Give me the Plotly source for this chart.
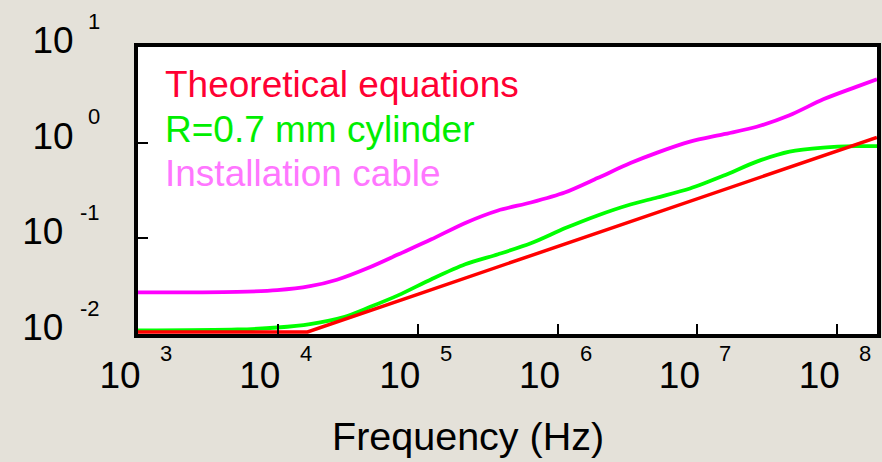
import plotly.graph_objects as go

# ---- data ----
theory_f = [1e3, 1e4, 1.63e4, 1e5, 1e6, 1e7, 1e8, 1.92e8]
theory_r = [0.0105, 0.0105, 0.0105, 0.026, 0.0822, 0.26, 0.822, 1.134]

cyl_f = [1000, 5140, 9910, 16980, 29650, 45400, 72950, 125300, 218800,
         375800, 644200, 1.125e6, 1.932e6, 3.319e6, 5.164e6, 8.851e6, 1.545e7,
         2.655e7, 4.56e7, 7.943e7, 1.365e8, 1.923e8]
cyl_r = [0.01088, 0.01114, 0.01169, 0.01271, 0.01503, 0.01911, 0.02549, 0.03741,
         0.05358, 0.06813, 0.0887, 0.1271, 0.1736, 0.226, 0.2674, 0.3318,
         0.4531, 0.6341, 0.8059, 0.8869, 0.9194, 0.9194]

cable_f = [1000, 5140, 9910, 16980, 26450, 45400, 72950, 125300, 218800,
           375800, 644200, 1.125e6, 1.932e6, 3.319e6, 5.164e6, 8.851e6, 1.545e7,
           2.655e7, 4.56e7, 7.943e7, 1.365e8, 1.923e8]
cable_r = [0.02719, 0.02758, 0.02873, 0.03162, 0.03695, 0.04987, 0.06813, 0.09763,
           0.145, 0.1957, 0.2371, 0.3014, 0.4268, 0.6116, 0.7867, 1.024,
           1.226, 1.468, 1.934, 2.839, 3.831, 4.608]

series_names = ["Theoretical equations", "R=0.7 mm cylinder", "Installation cable"]
line_colors = ["#FF0000", "#00FF00", "#FF00FF"]
text_colors = ["#FF0033", "#00EE00", "#FF77FF"]

x_exps = [3, 4, 5, 6, 7, 8]
y_exps = [-2, -1, 0, 1]

FONT = "Arial, Liberation Sans, sans-serif"
BG = "#E4E1D9"

fig = go.Figure()
fig.add_trace(go.Scatter(x=cable_f, y=cable_r, mode="lines",
                         line=dict(color=line_colors[2], width=3.8, shape="spline", smoothing=0.8),
                         name=series_names[2]))
fig.add_trace(go.Scatter(x=cyl_f, y=cyl_r, mode="lines",
                         line=dict(color=line_colors[1], width=3.8, shape="spline", smoothing=0.8),
                         name=series_names[1]))
fig.add_trace(go.Scatter(x=theory_f, y=theory_r, mode="lines",
                         line=dict(color=line_colors[0], width=3.5),
                         name=series_names[0]))

# legend-like coloured texts
for i, (name, col) in enumerate(zip(series_names, text_colors)):
    fig.add_annotation(x=0.034, y=0.868 - i * 0.155, xref="paper", yref="paper", text=name,
                       showarrow=False, xanchor="left", yanchor="middle",
                       font=dict(family=FONT, size=37, color=col))

# axis title
fig.add_annotation(x=0.447, y=-0.355, xref="paper", yref="paper", text="Frequency (Hz)",
                   showarrow=False, xanchor="center", yanchor="middle",
                   font=dict(family=FONT, size=39.5, color="black"))

# exponents of the power-of-ten tick labels
for e in x_exps:
    fig.add_annotation(x=e, y=0, xref="x", yref="paper", text=str(e), showarrow=False,
                       xanchor="center", yanchor="middle", xshift=28, yshift=-19,
                       font=dict(family=FONT, size=22, color="black"))
for e in y_exps:
    fig.add_annotation(x=0, y=e, xref="paper", yref="y", text=str(e), showarrow=False,
                       xanchor="right", yanchor="middle", xshift=-36, yshift=26,
                       font=dict(family=FONT, size=22, color="black"))

fig.update_xaxes(type="log", range=[3, 8.284],
                 tickvals=[10 ** e for e in x_exps], ticktext=["10" for e in x_exps],
                 ticks="inside", ticklen=10, tickwidth=2, tickcolor="black",
                 showline=True, linewidth=4, linecolor="black", mirror=True,
                 showgrid=False, zeroline=False, ticklabelstandoff=6, ticklabelshift=-18,
                 tickfont=dict(family=FONT, size=37, color="black"))
fig.update_yaxes(type="log", range=[-2, 1],
                 tickvals=[10 ** e for e in y_exps],
                 ticktext=["10\u00a0" if e < 0 else "10" for e in y_exps],
                 ticks="inside", ticklen=10, tickwidth=2, tickcolor="black",
                 showline=True, linewidth=4, linecolor="black", mirror=True,
                 showgrid=False, zeroline=False, ticklabelstandoff=53, ticklabelshift=-7,
                 tickfont=dict(family=FONT, size=37, color="black"))

fig.update_layout(width=882, height=462, paper_bgcolor=BG, plot_bgcolor="white",
                  margin=dict(l=138, r=1, t=47, b=128), showlegend=False)

fig.write_html("out.html")
